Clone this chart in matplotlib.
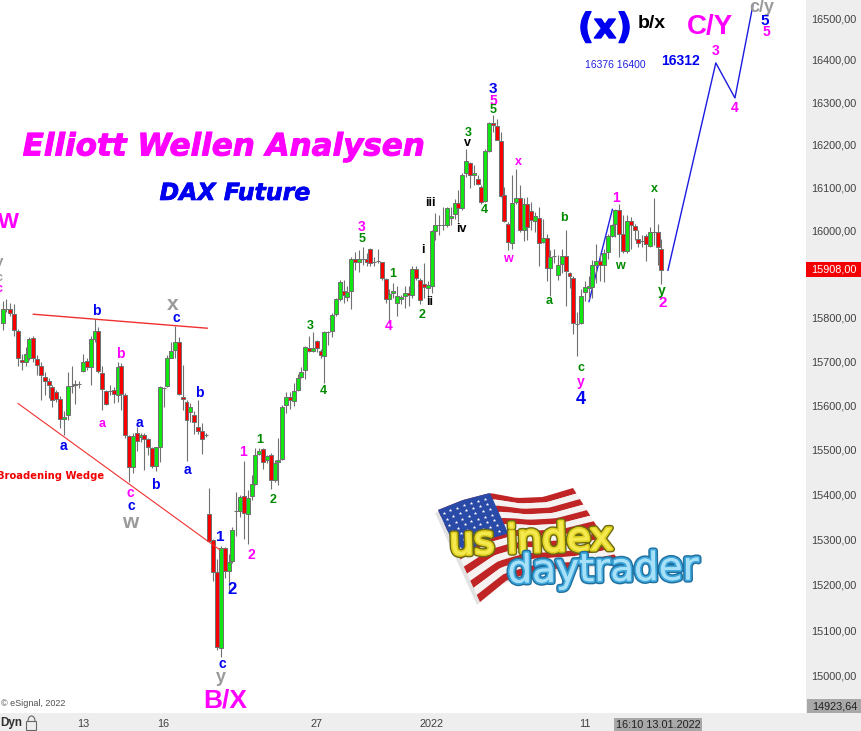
import matplotlib
matplotlib.use('Agg')
import matplotlib.pyplot as plt
import matplotlib.patheffects as pe
import numpy as np
from matplotlib.patches import Polygon, Rectangle, FancyBboxPatch, Arc

plt.rcParams['font.family'] = ['Liberation Sans', 'DejaVu Sans']

OPENS = [
    15787, 15820, 15820, 15807, 15768, 15702, 15698, 15706, 15752, 15705,
    15689, 15664, 15654, 15642, 15629, 15613, 15568, 15577, 15644, 15645,
    15648, 15678, 15700, 15687, 15750, 15768, 15674, 15632, 15632, 15635,
    15622, 15689, 15624, 15530, 15460, 15538, 15529, 15533, 15523, 15503,
    15464, 15505, 15640, 15644, 15708, 15725, 15743, 15619, 15608, 15585,
    15577, 15551, 15542, 15533, 15356, 15299, 15227, 15062, 15280, 15230,
    15252, 15362, 15363, 15396, 15356, 15397, 15424, 15491, 15502, 15477,
    15488, 15432, 15473, 15480, 15600, 15618, 15610, 15634, 15664, 15680,
    15729, 15723, 15746, 15723, 15711, 15767, 15768, 15808, 15842, 15861,
    15847, 15860, 15933, 15927, 15935, 15934, 15958, 15928, 15930, 15926,
    15888, 15842, 15856, 15833, 15842, 15848, 15856, 15852, 15911, 15885,
    15877, 15867, 15871, 15998, 16012, 16012, 16012, 16030, 16039, 16064,
    16051, 16133, 16158, 16129, 16119, 16101, 16069, 16186, 16251, 16245,
    16209, 16083, 16015, 15970, 16066, 16076, 16000, 16062, 16045, 16023,
    16030, 15973, 15983, 15913, 15941, 15897, 15923, 15942, 15902, 15890,
    15784, 15786, 15858, 15867, 15870, 15921, 15930, 15920, 15949, 15987,
    16014, 16047, 15992, 15952, 16022, 16011, 15980, 15975, 15987, 15965,
    15996, 15996, 15956,
]
HIGHS = [
    15837, 15841, 15833, 15830, 15773, 15717, 15732, 15755, 15758, 15713,
    15698, 15676, 15661, 15646, 15635, 15620, 15586, 15676, 15690, 15657,
    15655, 15717, 15706, 15758, 15796, 15777, 15690, 15635, 15646, 15642,
    15698, 15695, 15627, 15532, 15537, 15550, 15537, 15537, 15526, 15507,
    15507, 15644, 15642, 15713, 15743, 15781, 15755, 15691, 15612, 15605,
    15586, 15612, 15560, 15537, 15415, 15301, 15256, 15286, 15282, 15267,
    15327, 15406, 15398, 15475, 15410, 15443, 15503, 15503, 15503, 15488,
    15492, 15477, 15526, 15601, 15629, 15630, 15651, 15670, 15686, 15735,
    15758, 15767, 15748, 15727, 15769, 15769, 15809, 15845, 15886, 15886,
    15871, 15939, 15951, 15955, 15962, 15947, 15959, 15939, 15958, 15928,
    15890, 15864, 15879, 15871, 15852, 15871, 15871, 15918, 15917, 15890,
    15924, 15883, 16000, 16040, 16035, 16055, 16055, 16055, 16074, 16094,
    16133, 16189, 16160, 16152, 16129, 16105, 16191, 16253, 16269, 16261,
    16230, 16101, 16020, 16129, 16144, 16105, 16076, 16078, 16066, 16043,
    16055, 16027, 15992, 15955, 15956, 15943, 15958, 16002, 15905, 15894,
    15811, 15864, 15883, 15894, 15932, 15968, 15947, 15958, 15992, 16016,
    16050, 16062, 16035, 16035, 16031, 16016, 16000, 15989, 15992, 16008,
    16076, 16016, 15980,
]
LOWS = [
    15770, 15811, 15803, 15758, 15689, 15680, 15689, 15702, 15698, 15668,
    15612, 15624, 15616, 15597, 15608, 15548, 15532, 15567, 15627, 15602,
    15640, 15676, 15680, 15646, 15743, 15672, 15590, 15601, 15624, 15605,
    15608, 15590, 15526, 15428, 15447, 15496, 15518, 15455, 15488, 15458,
    15451, 15473, 15597, 15642, 15706, 15706, 15622, 15590, 15475, 15563,
    15534, 15534, 15491, 15528, 15293, 15207, 15057, 15042, 15215, 15181,
    15248, 15308, 15350, 15301, 15290, 15387, 15421, 15488, 15457, 15470,
    15412, 15428, 15420, 15477, 15582, 15592, 15598, 15632, 15661, 15659,
    15720, 15720, 15720, 15708, 15651, 15737, 15754, 15803, 15837, 15833,
    15837, 15818, 15909, 15903, 15920, 15917, 15917, 15917, 15924, 15886,
    15833, 15788, 15845, 15803, 15830, 15822, 15826, 15845, 15886, 15830,
    15845, 15845, 15856, 15977, 15989, 16000, 16008, 16012, 16027, 16020,
    16048, 16125, 16099, 16105, 16105, 16062, 16066, 16183, 16230, 16210,
    16078, 16020, 15955, 15958, 16062, 15996, 15976, 15977, 16000, 15996,
    15917, 15971, 15883, 15848, 15924, 15886, 15902, 15826, 15867, 15761,
    15712, 15784, 15837, 15841, 15845, 15879, 15883, 15880, 15935, 15985,
    15985, 15938, 15947, 15947, 15958, 15977, 15962, 15962, 15930, 15962,
    15966, 15920, 15877,
]
CLOSES = [
    15820, 15820, 15810, 15770, 15706, 15698, 15716, 15750, 15707, 15691,
    15668, 15654, 15645, 15611, 15615, 15568, 15574, 15644, 15644, 15649,
    15648, 15698, 15687, 15750, 15768, 15678, 15636, 15603, 15632, 15625,
    15687, 15626, 15532, 15460, 15530, 15520, 15532, 15524, 15505, 15464,
    15505, 15642, 15640, 15706, 15723, 15743, 15625, 15613, 15566, 15595,
    15562, 15541, 15523, 15533, 15296, 15228, 15063, 15280, 15230, 15250,
    15320, 15362, 15395, 15359, 15392, 15423, 15489, 15497, 15472, 15485,
    15432, 15471, 15477, 15597, 15618, 15611, 15633, 15661, 15675, 15731,
    15723, 15730, 15729, 15713, 15767, 15767, 15805, 15842, 15881, 15850,
    15859, 15935, 15927, 15933, 15935, 15927, 15924, 15928, 15930, 15890,
    15842, 15853, 15861, 15848, 15846, 15856, 15851, 15911, 15890, 15839,
    15870, 15873, 15998, 16012, 16012, 16012, 16051, 16034, 16064, 16051,
    16130, 16161, 16129, 16134, 16109, 16065, 16185, 16251, 16247, 16211,
    16081, 16022, 15973, 16064, 16076, 16000, 16062, 16008, 16025, 16034,
    15971, 15983, 15913, 15938, 15941, 15921, 15942, 15906, 15895, 15786,
    15784, 15849, 15870, 15871, 15920, 15930, 15920, 15947, 15986, 16012,
    16047, 15992, 15952, 16022, 16013, 16000, 15970, 15975, 15968, 15996,
    15996, 15961, 15908,
]

Y_TICKS = [15000, 15100, 15200, 15300, 15400, 15500, 15600, 15700,
           15800, 16000, 16100, 16200, 16300, 16400, 16500]
X_TICKS = [21, 42, 82, 112, 152]
X_LABELS = ['13', '16', '27', '2022', '11']

LAST_PRICE = 15908
LOW_PRICE = 14923.64

# forecast and trend lines, bar number / price
FORECAST_X = [173.7, 186.2, 191.2, 195.9]
FORECAST_Y = [15908, 16393, 16310, 16531]
IMPULSE_X = [153.1, 159.2]
IMPULSE_Y = [15836, 16049]
UPPER_X = [8.0, 53.4]
UPPER_Y = [15807, 15775]
LOWER_X = [4.0, 56.8]
LOWER_Y = [15604, 15276]

BLUE = '#0000f0'
MAG = '#ff00ff'
GREEN = '#008a00'
GRAY = '#9a9a9a'
BLACK = '#000000'

# x px, y px, text, colour, size
LABELS = [
    (8, 222, 'W', MAG, 16), (-1, 262, 'y', GRAY, 11), (-1, 278, 'c', GRAY, 9),
    (-1, 289, 'c', MAG, 9),
    (96, 311, 'b', BLUE, 10), (173, 304, 'x', GRAY, 15), (176, 318, 'c', BLUE, 10),
    (120, 354, 'b', MAG, 10), (199, 393, 'b', BLUE, 10), (102, 424, 'a', MAG, 9),
    (139, 423, 'a', BLUE, 10), (63, 446, 'a', BLUE, 10), (187, 470, 'a', BLUE, 10),
    (155, 485, 'b', BLUE, 10), (130, 493, 'c', MAG, 10), (131, 506, 'c', BLUE, 10),
    (130, 523, 'w', GRAY, 15), (220, 537, '1', BLUE, 11), (243, 452, '1', MAG, 10),
    (260, 440, '1', GREEN, 9), (232, 589, '2', BLUE, 12), (251, 555, '2', MAG, 10),
    (273, 500, '2', GREEN, 9), (222, 664, 'c', BLUE, 10), (221, 677, 'y', GRAY, 13),
    (225, 700, 'B/X', MAG, 19),
    (493, 89, '3', BLUE, 11), (493, 101, '5', MAG, 10), (493, 110, '5', GREEN, 9),
    (468, 133, '3', GREEN, 9), (467, 143, 'v', BLACK, 9), (430, 203, 'iii', BLACK, 9),
    (461, 229, 'iv', BLACK, 9), (423, 250, 'i', BLACK, 9), (430, 302, 'ii', BLACK, 9),
    (422, 315, '2', GREEN, 9), (362, 227, '3', MAG, 10), (362, 239, '5', GREEN, 9),
    (393, 274, '1', GREEN, 9), (389, 326, '4', MAG, 10), (310, 326, '3', GREEN, 9),
    (323, 391, '4', GREEN, 9), (484, 210, '4', GREEN, 9), (518, 162, 'x', MAG, 9),
    (508, 259, 'w', MAG, 9),
    (616, 198, '1', MAG, 10), (654, 189, 'x', GREEN, 9), (564, 218, 'b', GREEN, 9),
    (620, 266, 'w', GREEN, 9), (549, 301, 'a', GREEN, 9), (662, 291, 'y', GREEN, 10),
    (663, 303, '2', MAG, 11), (581, 368, 'c', GREEN, 9), (581, 382, 'y', MAG, 10),
    (581, 399, '4', BLUE, 13),
    (652, 24, 'b/x', BLACK, 14), (710, 27, 'C/Y', MAG, 20),
    (680, 61, '16312', BLUE, 10), (716, 51, '3', MAG, 10), (735, 108, '4', MAG, 10),
    (762, 7, 'c/y', GRAY, 13), (765, 21, '5', BLUE, 11), (766, 32, '5', MAG, 10),
]


def fmt(value):
    return f'{value:.2f}'.replace('.', ',')


def draw_chart(ax):
    bars = np.arange(len(OPENS))
    opens = np.array(OPENS, dtype=float)
    closes = np.array(CLOSES, dtype=float)
    colors = np.where(closes >= opens, '#12e612', '#f80000')

    ax.plot(IMPULSE_X, IMPULSE_Y, color='#2020e0', lw=1, zorder=1)
    ax.vlines(bars, LOWS, HIGHS, color='#707070', lw=0.8, zorder=2)
    ax.bar(bars, np.abs(closes - opens), bottom=np.minimum(opens, closes),
           width=1.04, color=colors, edgecolor='#707070', linewidth=0.72, zorder=3)

    ax.plot(FORECAST_X, FORECAST_Y, color='#1a1ae0', lw=1.0, zorder=4)
    ax.plot(UPPER_X, UPPER_Y, color='#f03030', lw=1.0, zorder=4)
    ax.plot(LOWER_X, LOWER_Y, color='#f03030', lw=0.8, zorder=4)

    ax.set_yscale('log')
    ax.set_xlim(-0.697, 209.75)
    ax.set_ylim(14919.8, 16543.1)
    ax.yaxis.tick_right()
    ax.set_yticks(Y_TICKS)
    ax.set_yticklabels([fmt(t) for t in Y_TICKS], fontsize=7.8, color='#404040')
    ax.yaxis.set_minor_locator(matplotlib.ticker.NullLocator())
    ax.yaxis.set_minor_formatter(matplotlib.ticker.NullFormatter())
    ax.set_xticks(X_TICKS)
    ax.set_xticklabels(X_LABELS, fontsize=7.8, color='#404040')
    ax.tick_params(axis='both', length=0)
    ax.tick_params(axis='y', pad=4)
    ax.tick_params(axis='x', pad=4)
    for spine in ax.spines.values():
        spine.set_visible(False)


def flag_point(u, v):
    top_x = [438, 463, 490, 517, 543, 573]
    top_y = [510, 500, 493, 498, 497, 488]
    bot_x = [480, 507, 540, 580, 618]
    bot_y = [602, 580, 570, 567, 560]
    tx = np.interp(u, np.linspace(0, 1, 6), top_x)
    ty = np.interp(u, np.linspace(0, 1, 6), top_y)
    bx = np.interp(u, np.linspace(0, 1, 5), bot_x)
    by = np.interp(u, np.linspace(0, 1, 5), bot_y)
    return tx + (bx - tx) * v, ty + (by - ty) * v


def flag_poly(u0, u1, v0, v1):
    us = np.linspace(u0, u1, 30)
    x0, y0 = flag_point(us, v0)
    x1, y1 = flag_point(us, v1)
    return np.column_stack([np.r_[x0, x1[::-1]], np.r_[y0, y1[::-1]]])


def draw_logo(ov):
    shadow = flag_poly(0, 1, 0, 1) + np.array([-3, 3])
    ov.add_patch(Polygon(shadow, fc='#d0d0d0', ec='none', alpha=0.6, zorder=5))
    for k in range(13):
        color = '#c02424' if k % 2 == 0 else '#f6f2f2'
        ov.add_patch(Polygon(flag_poly(0, 1, k / 13, (k + 1) / 13), fc=color, ec='none', zorder=6))
    ov.add_patch(Polygon(flag_poly(0, 0.4, 0, 0.5), fc='#2a4aa8', ec='none', zorder=7))
    for i in range(7):
        for j in range(7):
            sx, sy = flag_point(0.03 + i * 0.053, 0.05 + j * 0.065)
            ov.plot(sx, sy, marker='*', ms=2.6, color='white', mew=0, zorder=8)

    ov.text(531, 541, 'us index', fontsize=28, color='#f4ea50', ha='center', va='center',
            rotation=2, family='DejaVu Sans', zorder=9,
            path_effects=[pe.withStroke(linewidth=4.5, foreground='#6b6a12'),
                          pe.withStroke(linewidth=2.5, foreground='#e0d020'), pe.Normal()])
    ov.text(603, 570, 'daytrader', fontsize=28, color='#a8e0f8', ha='center', va='center',
            rotation=1, family='DejaVu Sans', zorder=10,
            path_effects=[pe.withStroke(linewidth=4.5, foreground='#1f6f9e'),
                          pe.withStroke(linewidth=2.5, foreground='#3fa8dc'), pe.Normal()])


def draw_overlay(ov):
    ov.text(224, 147, 'Elliott Wellen Analysen', color=MAG, fontsize=22.3, ha='center', va='center',
            fontweight='bold', fontstyle='italic', family='DejaVu Sans',
            path_effects=[pe.withStroke(linewidth=0.7, foreground=MAG)])
    ov.text(235, 193, 'DAX Future', color=BLUE, fontsize=17, ha='center', va='center',
            fontweight='bold', fontstyle='italic', family='DejaVu Sans',
            path_effects=[pe.withStroke(linewidth=0.5, foreground=BLUE)])
    ov.text(-3, 476, 'Broadening Wedge', color='#f00000', fontsize=7.2, ha='left', va='center',
            fontweight='bold', family='DejaVu Sans')
    ov.text(605, 28, '(x)', color=BLUE, fontsize=25, ha='center', va='center',
            fontweight='bold', family='DejaVu Sans',
            path_effects=[pe.withStroke(linewidth=1, foreground=BLUE)])
    ov.text(615, 65, '16376 16400', color='#2020e0', fontsize=7.5, ha='center', va='center')
    ov.text(1, 704, '© eSignal, 2022', color='#505050', fontsize=6.5, ha='left', va='center')

    for x, y, text, color, size in LABELS:
        ov.text(x, y, text, color=color, fontsize=size, fontweight='bold', ha='center', va='center')

    # price tags on the axis
    ov.add_patch(Rectangle((806, 262), 56, 15, fc='#f40000', ec='none'))
    ov.text(834, 269.5, fmt(LAST_PRICE), color='white', fontsize=7.8, ha='center', va='center')
    ov.add_patch(Rectangle((807, 699), 55, 14, fc='#a8a8a8', ec='none'))
    ov.text(834.5, 706.5, fmt(LOW_PRICE), color='#202020', fontsize=7.8, ha='center', va='center')

    # status strip
    ov.text(0, 723, 'Dyn', color='#303030', fontsize=8.5, fontweight='bold', ha='left', va='center')
    ov.add_patch(FancyBboxPatch((27, 722), 9, 8, boxstyle='round,pad=0.5', fc='#eeeeee',
                                ec='#666666', lw=0.8))
    ov.add_patch(Arc((31.5, 721), 7, 10, theta1=180, theta2=360, ec='#666666', lw=0.8))
    ov.add_patch(Rectangle((614, 718), 88, 13, fc='#a8a8a8', ec='none'))
    ov.text(658, 725, '16:10 13.01.2022', color='#202020', fontsize=7.8, ha='center', va='center')
    draw_logo(ov)


def main():
    fig = plt.figure(figsize=(8.62, 7.31), dpi=100, facecolor='#eeeeee')
    ax = fig.add_axes([0, 18 / 731, 806 / 862, 713 / 731], facecolor='white')
    draw_chart(ax)

    ov = fig.add_axes([0, 0, 1, 1], facecolor='none', zorder=5)
    ov.set_xlim(0, 862)
    ov.set_ylim(731, 0)
    ov.axis('off')
    draw_overlay(ov)

    fig.savefig('out.png', dpi=100, facecolor=fig.get_facecolor())


main()
